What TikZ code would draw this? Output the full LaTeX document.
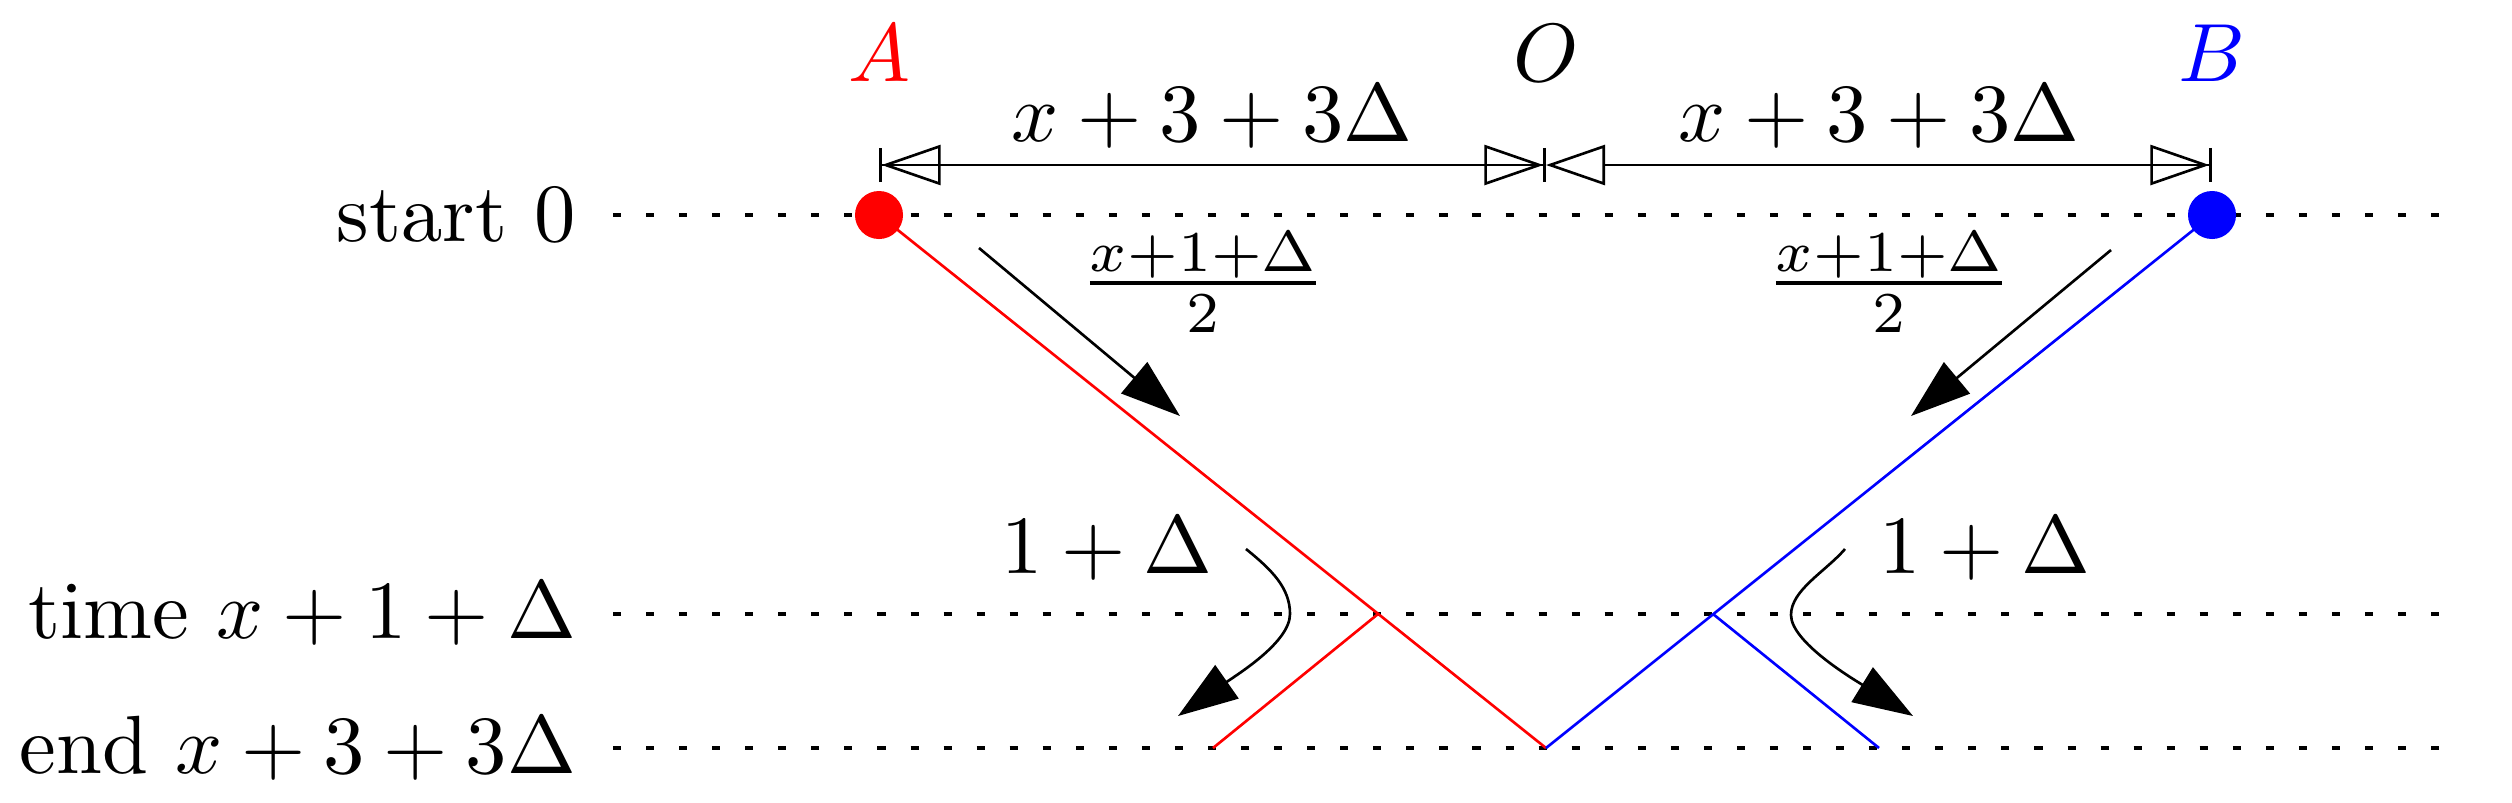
\documentclass[tikz,border=0pt]{standalone}
\usetikzlibrary{arrows.meta}
\newcommand{\bigtxt}[1]{\scalebox{2.35}{#1}}
\begin{document}
\begin{tikzpicture}[x=0.01cm,y=-0.01cm,
  guide/.style={line width=1pt, dash pattern=on 2.3pt off 7.1pt},
  world/.style={line width=0.75pt},
  bigtip/.style={-{Triangle[length=17pt,width=11.5pt]}, line width=0.75pt},
  dimline/.style={line width=0.75pt},
  dot/.style={circle, inner sep=0pt, minimum size=4.8mm, draw=none},
  lab/.style={inner sep=0pt},
]
\useasboundingbox (0,0) rectangle (2512,802);
% guide lines
\coordinate (g0l) at (613,215); \coordinate (g0r) at (2455,215);
\coordinate (g1l) at (613,614); \coordinate (g1r) at (2455,614);
\coordinate (g2l) at (613,748); \coordinate (g2r) at (2455,748);
\draw[guide] (g0l) -- (g0r);
\draw[guide] (g1l) -- (g1r);
\draw[guide] (g2l) -- (g2r);
% row labels
\node[lab, anchor=east] (ls) at (577,215) {\bigtxt{start $0$}};
\node[lab, anchor=east] (lt) at (577,614) {\bigtxt{time $x+1+\Delta$}};
\node[lab, anchor=east] (le) at (577,748) {\bigtxt{end $x+3+3\Delta$}};
% world lines
\coordinate (pa) at (879,215);
\coordinate (pb) at (2212,215);
\coordinate (po) at (1546,748);
\coordinate (ra) at (1378,614);
\coordinate (re) at (1213,748);
\coordinate (ba) at (1713,614);
\coordinate (be) at (1879,748);
\draw[world, red] (pa) -- (po);
\draw[world, red] (ra) -- (re);
\draw[world, blue] (pb) -- (po);
\draw[world, blue] (ba) -- (be);
\node[dot, fill=red] (A) at (pa) {};
\node[dot, fill=blue] (B) at (pb) {};
% dimension arrows
\coordinate (at) at (879,165);
\coordinate (ot) at (1546,165);
\coordinate (bt) at (2212,165);
\draw[dimline, {Bar[width=9.7pt]Triangle[open,length=16.8pt,width=11.4pt]}-{Triangle[open,length=16.8pt,width=11.4pt]Bar[width=9.7pt]}] (at) -- (ot);
\draw[dimline, {Triangle[open,length=16.8pt,width=11.4pt]}-{Triangle[open,length=16.8pt,width=11.4pt]Bar[width=9.7pt]}] (ot) -- (bt);
\node[lab, anchor=base] (d1) at (1212,141) {\bigtxt{$x+3+3\Delta$}};
\node[lab, anchor=base] (d2) at (1879,141) {\bigtxt{$x+3+3\Delta$}};
% point labels
\node[lab, anchor=base, text=red] (nA) at (879,81) {\bigtxt{$A$}};
\node[lab, anchor=base] (nO) at (1546,81) {\bigtxt{$O$}};
\node[lab, anchor=base, text=blue] (nB) at (2212,81) {\bigtxt{$B$}};
% travel arrows
\coordinate (s1) at (979,248); \coordinate (e1) at (1180,416);
\coordinate (s2) at (2111,250); \coordinate (e2) at (1911,416);
\draw[bigtip] (s1) -- (e1);
\draw[bigtip] (s2) -- (e2);
\node[lab] (f1) at (1203,282) {\bigtxt{$\frac{x+1+\Delta}{2}$}};
\node[lab] (f2) at (1889,282) {\bigtxt{$\frac{x+1+\Delta}{2}$}};
% curved arrows
\coordinate (c1s) at (1246,549); \coordinate (c1m) at (1290,614); \coordinate (c1e) at (1178,716);
\coordinate (c2s) at (1845,549); \coordinate (c2m) at (1791,615); \coordinate (c2e) at (1913,716);
\draw[bigtip] (c1s) .. controls (1272,570) and (1290,588) .. (c1m) .. controls (1290,642) and (1238,674) .. (c1e);
\draw[bigtip] (c2s) .. controls (1825,572) and (1791,590) .. (c2m) .. controls (1791,642) and (1853,679) .. (c2e);
\node[lab, anchor=base] (o1) at (1107,573) {\bigtxt{$1+\Delta$}};
\node[lab, anchor=base] (o2) at (1985,573) {\bigtxt{$1+\Delta$}};
\end{tikzpicture}
\end{document}
